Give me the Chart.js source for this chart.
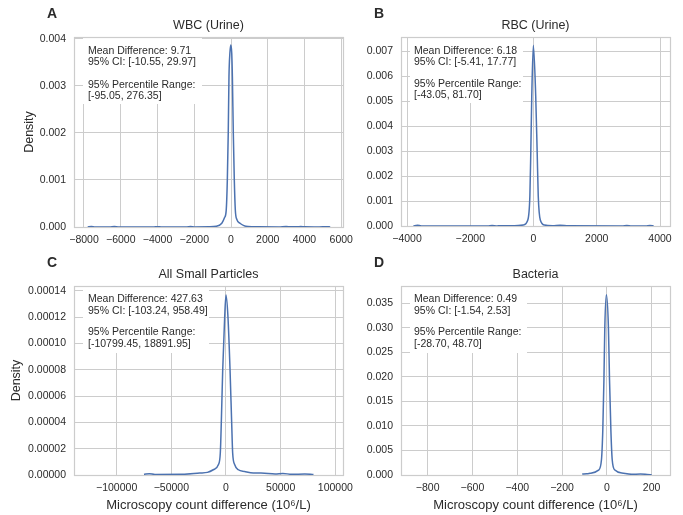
<!DOCTYPE html>
<html><head><meta charset="utf-8">
<script src="https://cdn.jsdelivr.net/npm/chart.js@4/dist/chart.umd.min.js"></script>
<style>
body{margin:0;background:#fff;width:683px;height:515px;overflow:hidden;position:relative}
canvas{position:absolute;left:0;top:0}
</style></head>
<body>
<canvas id="cA" width="683" height="515"></canvas>
<canvas id="cB" width="683" height="515"></canvas>
<canvas id="cC" width="683" height="515"></canvas>
<canvas id="cD" width="683" height="515"></canvas>
<script>
// ---------- data ----------
const wbcX = [-7800,-7600,-7400,-6600,-6350,-6100,-4200,-4000,-3800,-2400,-2200,-2000,-1200,-800,-500,-350,-260,-200,-150,-110,-60,-10,40,75,125,180,235,320,490,700,925,1500,2600,3000,3300,3600,3800,4000,4800,5200,5400];
const wbcY = [0.000002,0.00001,0.000002,0.000001,0.000009,0.000001,0.000001,0.000006,0.000001,0.000002,0.000008,0.000002,0.000005,0.000015,0.00008,0.0002,0.00036,0.001,0.002,0.0032,0.0037,0.00387,0.0037,0.0032,0.002,0.001,0.00036,0.00016,0.00008,0.00003,0.00001,0.000004,0.000002,0.00001,0.000003,0.000003,0.00001,0.000003,0.000002,0.000006,0.000001];

const rbcX = [-3800,-3670,-3550,-1450,-1310,-1150,-600,-330,-180,-115,-85,-55,-5,70,115,150,215,350,600,840,1100,2800,2950,3100,3550,3680,3800];
const rbcY = [0.000005,0.00003,0.000005,0.000005,0.00002,0.000005,0.000008,0.00004,0.00024,0.0012,0.003,0.0052,0.00724,0.0052,0.003,0.0012,0.00024,0.00004,0.000015,0.00003,0.000008,0.000005,0.00002,0.000005,0.000005,0.00002,0.000003];

const spX = [-75000,-70000,-65000,-40000,-24000,-17000,-11600,-7000,-5200,-4300,-3000,-1200,0,1800,3700,5200,6100,8000,11300,17000,25000,32000,45000,52000,60000,72000,80000];
const spY = [0.0000005,0.000001,0.0000004,0.0000005,0.0000015,0.000002,0.000004,0.0000078,0.0000167,0.0000394,0.00008,0.00012,0.0001367,0.00012,0.00008,0.0000394,0.0000167,0.0000078,0.000004,0.0000027,0.0000015,0.0000015,0.0000008,0.0000012,0.0000005,0.0000008,0.0000003];

const bacX = [-110,-90,-75,-37,-24,-18,-13,-9,-2,7,12,18,24,36,74,110,150,180,200];
const bacY = [0.0002,0.00025,0.00035,0.001,0.0031,0.0092,0.0194,0.0302,0.0367,0.0302,0.0194,0.0092,0.0031,0.001,0.00035,0.00015,0.0002,0.00012,0.00005];

const wbcXTicks = [-8000,-6000,-4000,-2000,0,2000,4000,6000];
const wbcYTicks = [0,0.001,0.002,0.003,0.004];
const rbcXTicks = [-4000,-2000,0,2000,4000];
const rbcYTicks = [0,0.001,0.002,0.003,0.004,0.005,0.006,0.007];
const spXTicks = [-100000,-50000,0,50000,100000];
const spYTicks = [0,0.00002,0.00004,0.00006,0.00008,0.0001,0.00012,0.00014];
const bacXTicks = [-800,-600,-400,-200,0,200];
const bacYTicks = [0,0.005,0.01,0.015,0.02,0.025,0.03,0.035];

const titles = ['WBC (Urine)','RBC (Urine)','All Small Particles','Bacteria'];
const letters = ['A','B','C','D'];
const statsText = [
  ['Mean Difference: 9.71','95% CI: [-10.55, 29.97]','','95% Percentile Range:','[-95.05, 276.35]'],
  ['Mean Difference: 6.18','95% CI: [-5.41, 17.77]','','95% Percentile Range:','[-43.05, 81.70]'],
  ['Mean Difference: 427.63','95% CI: [-103.24, 958.49]','','95% Percentile Range:','[-10799.45, 18891.95]'],
  ['Mean Difference: 0.49','95% CI: [-1.54, 2.53]','','95% Percentile Range:','[-28.70, 48.70]']
];
const xLabel = 'Microscopy count difference (10\u2076/L)';
const yLabel = 'Density';

// ---------- drawing ----------
const FONT = '"Liberation Sans", Arial, Helvetica, sans-serif';
const TXT = '#2b2b2b';
const GRID = '#cccccc';
const LINE = '#4c72b0';

const overlay = {
  id: 'overlay',
  beforeDatasetsDraw(chart, args, o) {
    const ctx = chart.ctx, a = chart.chartArea;
    ctx.save();
    ctx.fillStyle = '#fff';
    ctx.fillRect(o.box[0], o.box[1], o.box[2] - o.box[0], o.box[3] - o.box[1]);
    ctx.strokeStyle = GRID; ctx.lineWidth = 1.2;
    ctx.strokeRect(Math.round(a.left) + 0.5, Math.round(a.top) + 0.5, Math.round(a.right - a.left), Math.round(a.bottom - a.top));
    ctx.fillStyle = TXT;
    ctx.font = '10.5px ' + FONT;
    ctx.textAlign = 'left'; ctx.textBaseline = 'middle';
    o.lines.forEach((t, i) => { if (t) ctx.fillText(t, o.textX, o.lineY[i]); });
    ctx.restore();
  },
  afterDraw(chart, args, o) {
    const ctx = chart.ctx, a = chart.chartArea;
    const cx = (a.left + a.right) / 2;
    ctx.save();
    ctx.fillStyle = TXT;
    ctx.textBaseline = 'middle';
    ctx.textAlign = 'center';
    ctx.font = 'bold 14px ' + FONT;
    ctx.fillText(o.letter, o.letterX, o.letterY);
    ctx.font = '12.5px ' + FONT;
    ctx.fillText(o.title, cx, o.titleY);
    if (o.xlabel) { ctx.font = '13px ' + FONT; ctx.fillText(o.xlabel, cx, o.xlabelY); }
    if (o.ylabel) {
      ctx.translate(o.ylabelX, (a.top + a.bottom) / 2);
      ctx.rotate(-Math.PI / 2);
      ctx.font = '12.5px ' + FONT;
      ctx.fillText(o.ylabel, 0, 0);
    }
    ctx.restore();
  }
};

function fmtX(v) { return v < 0 ? '\u2212' + Math.abs(v) : String(v); }

function makeChart(id, xs, ys, xTicks, yTicks, dec, xr, ymax, area, ov) {
  const W = 50, H = 25;
  new Chart(document.getElementById(id), {
    type: 'line',
    data: { datasets: [{ data: xs.map((x, i) => ({ x: x, y: ys[i] })), borderColor: LINE, borderWidth: 1.5, pointRadius: 0, fill: false, cubicInterpolationMode: 'monotone' }] },
    options: {
      responsive: false, animation: false, devicePixelRatio: 1,
      layout: { padding: { left: area[0] - W, top: area[2], right: 683 - area[1], bottom: 515 - area[3] - H } },
      plugins: { legend: { display: false }, tooltip: { enabled: false }, overlay: ov },
      scales: {
        x: {
          type: 'linear', min: xr[0], max: xr[1],
          afterFit: s => { s.height = H; },
          afterBuildTicks: s => { s.ticks = xTicks.map(v => ({ value: v })); },
          grid: { color: GRID, lineWidth: 1, drawTicks: false },
          border: { display: false },
          ticks: { color: TXT, font: { family: FONT, size: 10.5 }, padding: 7, maxRotation: 0, autoSkip: false, callback: v => fmtX(v) }
        },
        y: {
          type: 'linear', min: 0, max: ymax,
          afterFit: s => { s.width = W; },
          afterBuildTicks: s => { s.ticks = yTicks.map(v => ({ value: v })); },
          grid: { color: GRID, lineWidth: 1, drawTicks: false },
          border: { display: false },
          ticks: { color: TXT, font: { family: FONT, size: 10.5 }, padding: 8, autoSkip: false, callback: v => Number(v).toFixed(dec) }
        }
      }
    },
    plugins: [overlay]
  });
}

makeChart('cA', wbcX, wbcY, wbcXTicks, wbcYTicks, 3, [-8544, 6095], 0.00404, [74, 343, 37, 227],
  { letter: letters[0], letterX: 52, letterY: 14, title: titles[0], titleY: 26, lines: statsText[0], textX: 88, lineY: [51, 62, 73, 85, 96], box: [83, 38, 202, 104], ylabel: yLabel, ylabelX: 30 });
makeChart('cB', rbcX, rbcY, rbcXTicks, rbcYTicks, 3, [-4190, 4316], 0.00757, [401, 670, 37, 226],
  { letter: letters[1], letterX: 379, letterY: 14, title: titles[1], titleY: 26, lines: statsText[1], textX: 414, lineY: [51, 62, 73, 84, 95], box: [410, 38, 523, 103] });
makeChart('cC', spX, spY, spXTicks, spYTicks, 5, [-139000, 107000], 0.0001436, [74, 343, 286, 475],
  { letter: letters[2], letterX: 52, letterY: 263, title: titles[2], titleY: 275, lines: statsText[2], textX: 88, lineY: [299, 311, 322, 332, 344], box: [83, 287, 209, 353], xlabel: xLabel, xlabelY: 505, ylabel: yLabel, ylabelX: 17 });
makeChart('cD', bacX, bacY, bacXTicks, bacYTicks, 3, [-919, 282], 0.0385, [401, 670, 286, 475],
  { letter: letters[3], letterX: 379, letterY: 263, title: titles[3], titleY: 275, lines: statsText[3], textX: 414, lineY: [299, 311, 322, 332, 344], box: [410, 287, 527, 353], xlabel: xLabel, xlabelY: 505 });
</script>
</body></html>
